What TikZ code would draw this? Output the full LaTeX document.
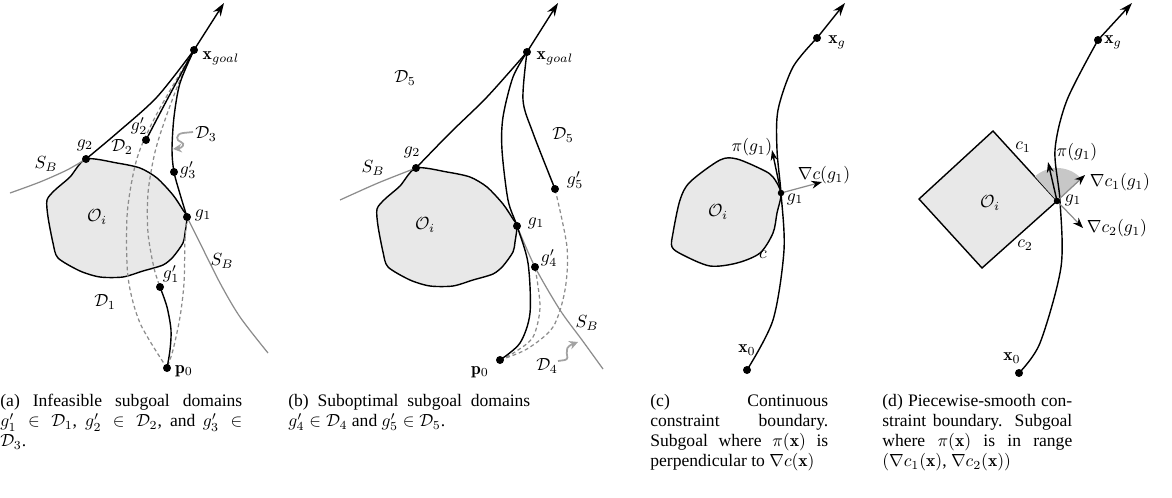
\documentclass[tikz,border=0pt]{standalone}
\usepackage{amsmath,amssymb}
\usepackage{fontspec}
\usepackage{tikz}
\usetikzlibrary{arrows.meta, positioning}
\newfontfamily\capfont{Liberation Serif}
\definecolor{obsGray}{gray}{0.91}
\definecolor{bndGray}{gray}{0.55}
\definecolor{coneGray}{gray}{0.78}

\begin{document}
\begin{tikzpicture}[
  x=0.02cm, y=-0.02cm,
  traj/.style={line width=0.8pt},
  obstacle/.style={draw, line width=0.8pt, fill=obsGray},
  sbound/.style={draw=bndGray, line width=0.7pt},
  dashdom/.style={draw=bndGray, line width=0.7pt, dash pattern=on 2.2pt off 1.6pt},
  wiggle/.style={draw=bndGray!80, line width=1pt, -{Stealth[length=5pt,width=5pt]}},
  grad/.style={draw=bndGray, line width=0.7pt, -{Stealth[black,length=6pt,width=4.5pt]}},
  goalarrow/.style={traj, -{Stealth[length=7.5pt,width=5pt]}},
  piarrow/.style={traj, -{Stealth[length=6pt,width=4pt]}},
  dot/.style={circle, fill, inner sep=0pt, minimum size=0.16cm},
  sdot/.style={circle, fill, inner sep=0pt, minimum size=0.13cm},
  capbox/.style={anchor=north west, inner sep=0pt, text width=#1, align=justify,
    font=\capfont\fontsize{10}{11.4}\selectfont},
  obst/.pic={
    \draw[obstacle] plot[smooth cycle, tension=0.45] coordinates {(86,159) (117,163) (140,168)
      (157,178) (173,195) (183,210) (187,217) (185,233) (183,243) (173,257) (163,265) (143,271)
      (123,277) (100,277) (80,271) (58,258) (53,243) (48,217) (47,200) (55,190) (70,177)};
  }
]
\useasboundingbox (0,0) rectangle (1172,497);

% ---- (a) infeasible subgoal domains
\pic at (0,0) {obst};
\coordinate (xga) at (194,50);
\coordinate (tipa) at (224,3);
\coordinate (g2a) at (86,159);
\coordinate (g1a) at (187,217);
\coordinate (g3pa) at (174,172);
\coordinate (g2pa) at (146,140);
\coordinate (g1pa) at (160,287);
\coordinate (p0a) at (167,368);
\coordinate (sbaL) at (10,193);
\coordinate (sbaR) at (268,353);

\draw[sbound] plot[smooth] coordinates {(sbaL) (40,182) (67,170) (g2a)};
\draw[sbound] plot[smooth] coordinates {(g1a) (200,243) (220,283) (240,317) (sbaR)};
\draw[dashdom] plot[smooth] coordinates {(p0a) (140,323) (128,277) (127,217) (133,175) (141,147) (160,108) (xga)};
\draw[dashdom] plot[smooth] coordinates {(xga) (180,80) (166,117) (155,152) (148,193) (148,233) (154,268) (g1pa)};
\draw[dashdom] plot[smooth] coordinates {(g1a) (185,240) (184,283) (180,317) (173,350) (p0a)};
\draw[traj] plot[smooth] coordinates {(g2a) (117,133) (157,97) (xga)};
\draw[traj] plot[smooth] coordinates {(xga) (180,83) (174,117) (172,150) (g3pa) (180,194) (g1a)};
\draw[traj] plot[smooth] coordinates {(xga) (168,98) (g2pa)};
\draw[traj] plot[smooth] coordinates {(g1pa) (167,307) (171,330) (170,350) (p0a)};
\draw[goalarrow] (xga) -- (tipa);
\foreach \p in {xga,g2a,g1a,g3pa,g2pa,g1pa,p0a}
  \node[dot] at (\p) {};

\node (lxga) at (221,58) {$\mathbf{x}_{goal}$};
\node (lg2a) at (85,145) {$g_2$};
\node (ld2) at (122,147) {$\mathcal{D}_2$};
\node (lg2pa) at (139,126) {$g_2'$};
\node (ld3) at (206,134) {$\mathcal{D}_3$};
\node (lsbaL) at (46,164) {$S_B$};
\node (lg3pa) at (188,170) {$g_3'$};
\node (lg1a) at (203,215) {$g_1$};
\node (loa) at (97,217) {$\mathcal{O}_i$};
\node (lsbaR) at (222,261) {$S_B$};
\node (lg1pa) at (171,274) {$g_1'$};
\node (ld1) at (105,302) {$\mathcal{D}_1$};
\node (lp0a) at (184,371) {$\mathbf{p}_0$};
\draw[wiggle] (193,132) -- (183,133) .. controls (175,134) and (176,141) .. (181,142)
  .. controls (186,144) and (182,148) .. (173,149);

% ---- (b) suboptimal subgoal domains
\pic at (330,9) {obst};
\coordinate (xgb) at (527,52);
\coordinate (tipb) at (558,3);
\coordinate (g2b) at (416,168);
\coordinate (g1b) at (517,226);
\coordinate (g4pb) at (535,267);
\coordinate (g5pb) at (555,189);
\coordinate (p0b) at (500,360);
\coordinate (sbbL) at (340,200);
\coordinate (sbbR) at (603,369);

\draw[sbound] plot[smooth] coordinates {(sbbL) (378,183) (g2b)};
\draw[sbound] plot[smooth] coordinates {(g1b) (g4pb) (560,310) (582,340) (sbbR)};
\draw[dashdom] plot[smooth] coordinates {(p0b) (515,352) (533,337) (540,307) (g4pb)};
\draw[dashdom] plot[smooth] coordinates {(p0b) (527,349) (553,327) (565,290) (567,247) (g5pb)};
\draw[traj] plot[smooth] coordinates {(g2b) (450,133) (487,97) (xgb)};
\draw[traj] plot[smooth] coordinates {(xgb) (513,77) (503,117) (502,150) (508,200) (g1b)
  (528,263) (530,313) (520,343) (p0b)};
\draw[traj] plot[smooth] coordinates {(xgb) (523,100) (533,133) (g5pb)};
\draw[goalarrow] (xgb) -- (tipb);
\foreach \p in {xgb,g2b,g1b,g4pb,g5pb,p0b}
  \node[dot] at (\p) {};

\node (lxgb) at (555,58) {$\mathbf{x}_{goal}$};
\node (ld5a) at (405,78) {$\mathcal{D}_5$};
\node (ld5b) at (563,135) {$\mathcal{D}_5$};
\node (lg5pb) at (575,180) {$g_5'$};
\node (lg2b) at (412,152) {$g_2$};
\node (lsbbL) at (373,168) {$S_B$};
\node (lob) at (425,225) {$\mathcal{O}_i$};
\node (lg1b) at (536,223) {$g_1$};
\node (lg4pb) at (549,258) {$g_4'$};
\node (lsbbR) at (587,323) {$S_B$};
\node (ld4) at (547,366) {$\mathcal{D}_4$};
\node (lp0b) at (480,372) {$\mathbf{p}_0$};
\draw[wiggle] (558,361) -- (565,360) .. controls (572,358) and (560,349) .. (578,342);

% ---- (c) continuous constraint boundary
\coordinate (xgc) at (817,38);
\coordinate (tipc) at (845,3);
\coordinate (g1c) at (781,193);
\coordinate (x0c) at (747,370);
\coordinate (pic) at (772,150);
\coordinate (gradc) at (822,182);
\draw[obstacle] plot[smooth cycle, tension=0.5] coordinates {(g1c) (773,177) (763,170) (737,159)
  (720,160) (690,182) (680,200) (673,233) (672,247) (683,255) (710,266) (737,263) (760,253)
  (773,233) (777,213)};
\draw[traj] plot[smooth] coordinates {(x0c) (773,320) (784,250) (g1c) (777,150) (778,110) (793,67) (xgc)};
\draw[goalarrow] (xgc) -- (tipc);
\draw[piarrow] (g1c) -- (pic);
\draw[grad] (g1c) -- (gradc);
\node[dot] at (xgc) {};
\node[dot] at (x0c) {};
\node[sdot] at (g1c) {};

\node (lxgc) at (837,42) {$\mathbf{x}_g$};
\node (lpic) at (752,147) {$\pi(g_1)$};
\node (lgradc) at (824,175) {$\nabla c(g_1)$};
\node (lg1c) at (795,199) {$g_1$};
\node (loc) at (718,212) {$\mathcal{O}_i$};
\node (lcc) at (763,255) {$c$};
\node (lx0c) at (747,350) {$\mathbf{x}_0$};

% ---- (d) piecewise-smooth constraint boundary
\coordinate (xgd) at (1098,40);
\coordinate (tipd) at (1132,3);
\coordinate (g1d) at (1057,201);
\coordinate (x0d) at (1019,373);
\coordinate (pid) at (1048,162);
\coordinate (gc1) at (1085,175);
\coordinate (gc2) at (1083,228);
\draw[obstacle] (g1d) -- (993,131) -- (919,199) -- (982,268) -- cycle;
\fill[coneGray] (g1d) -- plot[domain=42:132, samples=24] ({1057+33*cos(\x)}, {201-33*sin(\x)}) -- cycle;
\draw[traj] plot[smooth] coordinates {(x0d) (1040,343) (1061,267) (1060,201) (1055,150) (1067,100) (xgd)};
\draw[goalarrow] (xgd) -- (tipd);
\draw[piarrow] (g1d) -- (pid);
\draw[grad] (g1d) -- (gc1);
\draw[grad] (g1d) -- (gc2);
\node[dot] at (xgd) {};
\node[dot] at (x0d) {};
\node[sdot] at (g1d) {};

\node (lxgd) at (1113,42) {$\mathbf{x}_g$};
\node (lc1) at (1023,147) {$c_1$};
\node (lpid) at (1077,152) {$\pi(g_1)$};
\node (lgc1) at (1120,182) {$\nabla c_1(g_1)$};
\node (lg1d) at (1073,200) {$g_1$};
\node (lgc2) at (1117,228) {$\nabla c_2(g_1)$};
\node (lc2) at (1025,245) {$c_2$};
\node (lod) at (990,203) {$\mathcal{O}_i$};
\node (lx0d) at (1012,358) {$\mathbf{x}_0$};

% ---- captions
\node[capbox=4.84cm] (capa) at (0,394) {(a) Infeasible subgoal domains\linebreak
  $g_1' \in \mathcal{D}_1$, $g_2' \in \mathcal{D}_2$, and $g_3' \in$\linebreak $\mathcal{D}_3$.};
\node[capbox=4.84cm] (capb) at (288,394) {(b) Suboptimal subgoal domains\linebreak
  $g_4' \in \mathcal{D}_4$ and $g_5' \in \mathcal{D}_5$.};
\node[capbox=3.56cm] (capc) at (650,394) {(c) Continuous\linebreak constraint boundary.\linebreak
  Subgoal where $\pi(\mathbf{x})$ is\linebreak perpendicular to $\nabla c(\mathbf{x})$};
\node[capbox=3.8cm] (capd) at (882,394) {(d) Piecewise-smooth con-\linebreak straint boundary. Subgoal\linebreak
  where $\pi(\mathbf{x})$ is in range\linebreak $(\nabla c_1(\mathbf{x})$, $\nabla c_2(\mathbf{x}))$};
\end{tikzpicture}
\end{document}
